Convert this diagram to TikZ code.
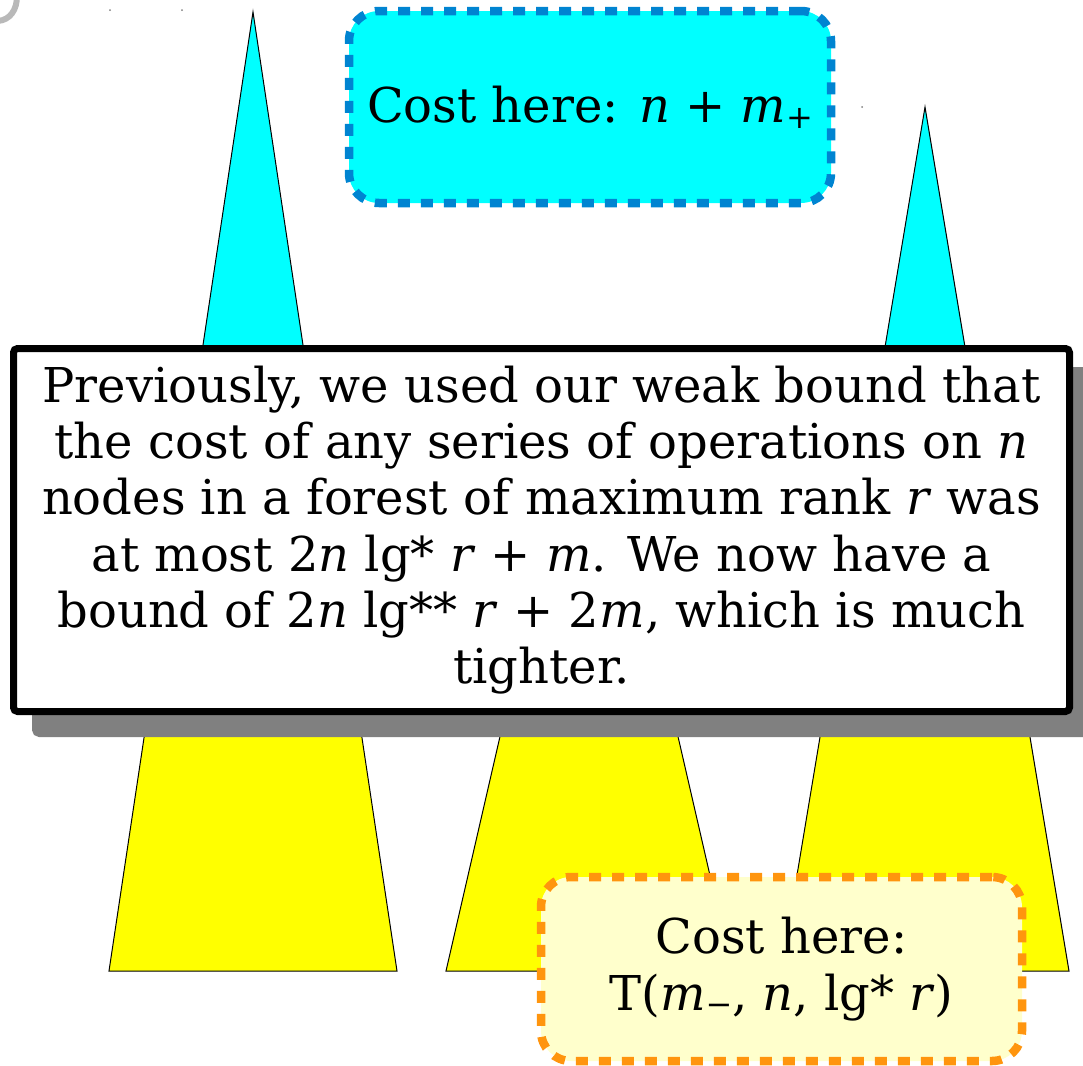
\documentclass[tikz,border=0pt]{standalone}
\usepackage{fontspec}
\setmainfont{DejaVu Serif}
\usepackage{tikz}
\usetikzlibrary{calc,shadows}

\definecolor{boxblue}{RGB}{0,132,209}
\definecolor{boxorange}{RGB}{255,149,14}
\definecolor{paleyellow}{RGB}{255,255,204}
\definecolor{shadowgray}{RGB}{128,128,128}
\definecolor{treecyan}{RGB}{0,255,255}
\definecolor{treeyellow}{RGB}{255,255,0}

\newcommand{\lowsub}[1]{\raisebox{-0.12em}{\fontsize{16}{16}\selectfont #1}}

\begin{document}
\begin{tikzpicture}[
    x=0.5pt, y=-0.5pt,
    font=\fontsize{24}{28.1}\selectfont,
    treetop/.style ={draw=black, fill=treecyan,   line width=0.5pt},
    treebase/.style={draw=black, fill=treeyellow, line width=0.5pt},
    note/.style    ={draw=black, fill=white, line width=3.5pt, rounded corners=2pt, align=center, inner sep=0pt,
                     minimum width=528pt, minimum height=181.5pt,
                     drop shadow={shadow xshift=11pt, shadow yshift=-11pt, fill=shadowgray, draw=shadowgray, line width=3.5pt, opacity=1}},
    costtop/.style ={draw=boxblue, fill=treecyan, line width=4.25pt, dash pattern=on 6pt off 5.5pt, rounded corners=15pt,
                     align=center, minimum width=241pt, minimum height=96pt},
    costbot/.style ={draw=boxorange, fill=paleyellow, line width=4.25pt, dash pattern=on 6pt off 5.5pt, rounded corners=15pt,
                     align=center, minimum width=240.5pt, minimum height=92pt}
]
\useasboundingbox (0,0) rectangle (1083,1066);

% --- Trees (cyan top, yellow base) ---
\foreach \ax/\ay/\hw [count=\i] in {253/12/144, 589/350/143, 925/107/144} {
  \coordinate (top\i) at (\ax,\ay);
  \coordinate (bl\i)  at (\ax-\hw,971);
  \coordinate (br\i)  at (\ax+\hw,971);
  \filldraw[treetop]  (top\i) -- ($(top\i)!0.5!(bl\i)$) -- ($(top\i)!0.5!(br\i)$) -- cycle;
  \filldraw[treebase] ($(top\i)!0.5!(bl\i)$) -- (bl\i) -- (br\i) -- ($(top\i)!0.5!(br\i)$) -- cycle;
}

% --- Leftovers at the top edge ---
\draw[gray!55, line width=3pt] (17,-4) .. controls (17,10) and (10,20) .. (-2,21);
\foreach \px/\py in {110/10, 182/10, 862/107}
  \fill[gray] (\px,\py) circle (0.5pt);

% --- Cost boxes ---
\node[costtop] (upper) at (590,107) {Cost here: \textit{n} + \textit{m}\lowsub{+}};
\node[costbot] (lower) at (781.5,969) {Cost here:\\T(\textit{m}\lowsub{−}, \textit{n}, lg* \textit{r})};

% --- Remark box ---
\node[note] (remark) at (541.5,530) {Previously, we used our weak bound that\\
  the cost of any series of operations on \textit{n}\\
  nodes in a forest of maximum rank \textit{r} was\\
  at most 2\textit{n} lg* \textit{r} + \textit{m}. We now have a\\
  bound of 2\textit{n} lg** \textit{r} + 2\textit{m}, which is much\\
  tighter.};

\end{tikzpicture}
\end{document}
